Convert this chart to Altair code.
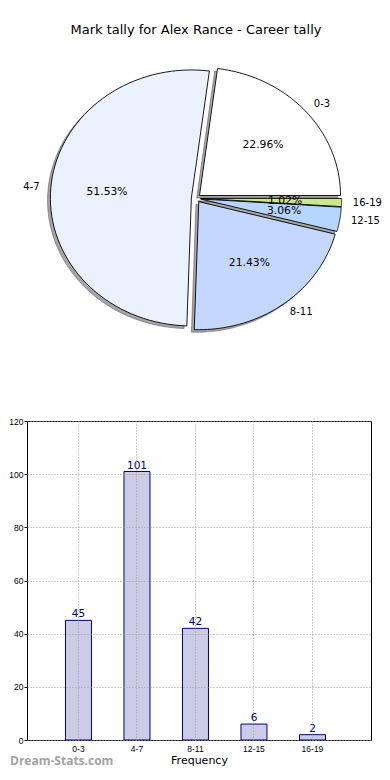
import altair as alt
import pandas as pd

# ---------------- data ----------------
title_text = "Mark tally for Alex Rance - Career tally"
categories = ["0-3", "4-7", "8-11", "12-15", "16-19"]
counts = [45, 101, 42, 6, 2]
pie_colors = ["#ffffff", "#ebf1ff", "#c4d8ff", "#b6d5ff", "#c9e88b"]
y_ticks = [0, 20, 40, 60, 80, 100, 120]
x_title = "Frequency"
watermark = "Dream-Stats.com"

# ---------------- layout / style constants ----------------
X0 = 26            # estimated panel origin in page pixels
W1, H1 = 350, 413  # pie panel
RX, RY = 141.0, 128.0   # pie radii in px (matplotlib non-equal axes)
CX, CY = 195.0 - X0, 190.3
EXPLODE = 0.033
SHADOW = 0.02
LABEL_DIST = 1.08
N = 72
W2, H2 = 344, 319  # bar panel
SMALL = "Liberation Sans, Arial, DejaVu Sans"
FONT = "DejaVu Sans"

pie_df = pd.DataFrame({"cat": categories, "count": counts, "ord": list(range(len(categories)))})
bar_df = pd.DataFrame({"cat": categories, "count": counts})

xs = alt.Scale(domain=[-CX / RX, (W1 - CX) / RX], nice=False, zero=False)
ys = alt.Scale(domain=[(CY - H1) / RY, CY / RY], nice=False, zero=False)

base = (
    alt.Chart(pie_df)
    .transform_joinaggregate(total="sum(count)")
    .transform_window(cum="sum(count)", sort=[alt.SortField("ord")], frame=[None, 0])
    .transform_calculate(a0="2*PI*(datum.cum - datum.count)/datum.total")
    .transform_calculate(a1="2*PI*datum.cum/datum.total")
    .transform_calculate(am="(datum.a0 + datum.a1)/2")
    .transform_calculate(vx=f"{EXPLODE}*cos(datum.am)")
    .transform_calculate(vy=f"{EXPLODE}*sin(datum.am)")
)

pts = (
    base.transform_calculate(ks=f"sequence(0, {N + 2})")
    .transform_flatten(["ks"], as_=["k"])
    .transform_calculate(ang=f"datum.a0 + (datum.a1 - datum.a0)*(datum.k - 1)/{N}")
    .transform_calculate(px="datum.vx + (datum.k == 0 ? 0 : cos(datum.ang))")
    .transform_calculate(py="datum.vy + (datum.k == 0 ? 0 : sin(datum.ang))")
)

shadow = pts.transform_calculate(sx=f"datum.px - {SHADOW}", sy=f"datum.py - {SHADOW}").mark_line(
    interpolate="linear-closed", fill="#4d4d4d", stroke="#4d4d4d",
    fillOpacity=0.5, strokeOpacity=0.5, strokeWidth=1,
).encode(
    x=alt.X("sx:Q", scale=xs, axis=None),
    y=alt.Y("sy:Q", scale=ys, axis=None),
    order=alt.Order("k:Q"),
    detail="cat:N",
)

wedges = pts.mark_line(interpolate="linear-closed", stroke="black", strokeWidth=0.9).encode(
    x=alt.X("px:Q", scale=xs, axis=None),
    y=alt.Y("py:Q", scale=ys, axis=None),
    order=alt.Order("k:Q"),
    detail="cat:N",
    fill=alt.Fill("cat:N", scale=alt.Scale(domain=categories, range=pie_colors), legend=None),
)

pct = (
    base.transform_calculate(tx="datum.vx + 0.6*cos(datum.am)")
    .transform_calculate(ty="datum.vy + 0.6*sin(datum.am)")
    .transform_calculate(lab="format(100*datum.count/datum.total, '.2f') + '%'")
    .mark_text(font=FONT, fontSize=10.8, color="black", align="center", baseline="middle")
    .encode(x=alt.X("tx:Q", scale=xs, axis=None), y=alt.Y("ty:Q", scale=ys, axis=None), text="lab:N")
)

lab_base = (
    base.transform_calculate(tx=f"datum.vx + {LABEL_DIST}*cos(datum.am)")
    .transform_calculate(ty=f"datum.vy + {LABEL_DIST}*sin(datum.am)")
)
lab_right = lab_base.transform_filter("cos(datum.am) >= 0").mark_text(
    font=FONT, fontSize=10, color="black", align="left", baseline="middle"
).encode(x=alt.X("tx:Q", scale=xs, axis=None), y=alt.Y("ty:Q", scale=ys, axis=None), text="cat:N")
lab_left = lab_base.transform_filter("cos(datum.am) < 0").mark_text(
    font=FONT, fontSize=10, color="black", align="right", baseline="middle"
).encode(x=alt.X("tx:Q", scale=xs, axis=None), y=alt.Y("ty:Q", scale=ys, axis=None), text="cat:N")

title = alt.Chart(pd.DataFrame({"t": [title_text]})).mark_text(
    font=FONT, fontSize=13, color="black", align="center", baseline="middle"
).encode(x=alt.value(195 - X0), y=alt.value(22), text="t:N")

pie = alt.layer(shadow, wedges, pct, lab_right, lab_left, title).properties(width=W1, height=H1)

# ---------------- bar chart ----------------
bx = alt.X(
    "cat:N", sort=categories,
    scale=alt.Scale(paddingInner=0.5556, paddingOuter=0.7179, align=0.458),
    axis=alt.Axis(
        title=x_title, labelAngle=0, labelFont=SMALL, labelFontSize=8.5, labelColor="black",
        ticks=False, domain=False, labelPadding=4,
        titleFont=FONT, titleFontSize=11, titleFontWeight="normal", titleColor="black", titlePadding=2,
        grid=True, gridDash=[1, 2], gridColor="#9a9a9a", bandPosition=0.5, zindex=1,
    ),
)
by = alt.Y(
    "count:Q", scale=alt.Scale(domain=[0, 120], nice=False),
    axis=alt.Axis(
        values=y_ticks, title=None, labelFont=SMALL, labelFontSize=8.5, labelColor="black",
        tickSize=3, tickColor="black", labelPadding=1, domain=False,
        grid=True, gridDash=[1, 2], gridColor="#9a9a9a", zindex=1,
    ),
)

bars = alt.Chart(bar_df).mark_bar(fill="#cccce6", stroke="#000080", strokeWidth=1).encode(x=bx, y=by)
bar_txt = alt.Chart(bar_df).mark_text(
    font=FONT, fontSize=10.5, color="#000080", baseline="bottom", dy=-1
).encode(x=alt.X("cat:N", sort=categories), y="count:Q", text="count:Q")
wm = alt.Chart(pd.DataFrame({"w": [watermark]})).mark_text(
    font="Open Sans", fontWeight="bold", fontSize=12, color="#a3a3a3", align="left", baseline="middle"
).encode(x=alt.value(-17), y=alt.value(H2 + 21), text="w:N")

bar = alt.layer(bars, bar_txt, wm).properties(
    width=W2, height=H2, view=alt.ViewBackground(stroke="black", strokeWidth=1)
)

chart = (
    alt.vconcat(pie, bar, spacing=0, bounds="flush")
    .properties(padding=0)
    .configure_view(stroke=None)
)

chart.save("out.html", embed_options={"renderer": "svg", "actions": False})
